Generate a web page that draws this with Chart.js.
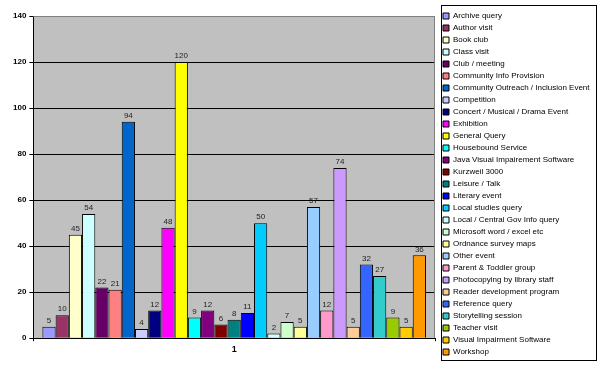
<!DOCTYPE html>
<html lang="en">
<head>
<meta charset="UTF-8">
<title>Library enquiries</title>
<script src="https://cdn.jsdelivr.net/npm/chart.js@4/dist/chart.umd.min.js"></script>
<style>
    html, body {margin: 0; padding: 0; background: #fff; overflow: hidden;}
    #chartDom {position: relative; width: 600px; height: 366px;}
</style>
</head>
<body>
<div id="chartDom"><canvas id="chart"></canvas></div>
<script>
    const categories = ['1'];

    const seriesNames = ['Archive query', 'Author visit', 'Book club', 'Class visit', 'Club / meeting',
        'Community Info Provision', 'Community Outreach / Inclusion Event', 'Competition',
        'Concert / Musical / Drama Event', 'Exhibition', 'General Query', 'Housebound Service',
        'Java Visual Impairement Software', 'Kurzweil 3000', 'Leisure / Talk', 'Literary event',
        'Local studies query', 'Local / Central Gov Info query', 'Microsoft word / excel etc',
        'Ordnance survey maps', 'Other event', 'Parent & Toddler group', 'Photocopying by library staff',
        'Reader development program', 'Reference query', 'Storytelling session', 'Teacher visit',
        'Visual Impairment Software', 'Workshop'];

    const seriesValues = [5, 10, 45, 54, 22, 21, 94, 4, 12, 48, 120, 9, 12, 6, 8, 11, 50, 2, 7, 5, 57, 12, 74, 5, 32, 27, 9, 5, 36];

    const seriesColors = ['#9999FF', '#993366', '#FFFFCC', '#CCFFFF', '#660066', '#FF8080', '#0066CC', '#CCCCFF',
        '#000080', '#FF00FF', '#FFFF00', '#00FFFF', '#800080', '#800000', '#008080', '#0000FF', '#00CCFF',
        '#CCFFFF', '#CCFFCC', '#FFFF99', '#99CCFF', '#FF99CC', '#CC99FF', '#FFCC99', '#3366FF', '#33CCCC',
        '#99CC00', '#FFCC00', '#FF9900'];

    const yMin = 0, yMax = 140, yStep = 20;

    const FONT = 'Arial, "Liberation Sans", sans-serif';

    // grey plot background + frame
    const plotArea = {
        id: 'plotArea',
        beforeDraw(chart) {
            const a = chart.chartArea, c = chart.ctx;
            c.save();
            c.fillStyle = '#C0C0C0';
            c.fillRect(a.left, a.top, a.right - a.left, a.bottom - a.top);
            c.restore();
        },
        afterDraw(chart) {
            const a = chart.chartArea, c = chart.ctx;
            c.save();
            c.strokeStyle = '#808080';
            c.lineWidth = 1;
            c.beginPath();
            c.moveTo(a.left, a.top + 0.5);
            c.lineTo(a.right - 0.5, a.top + 0.5);
            c.lineTo(a.right - 0.5, a.bottom);
            c.stroke();
            c.restore();
        }
    };

    // value above each bar
    const barLabels = {
        id: 'barLabels',
        afterDatasetsDraw(chart) {
            const c = chart.ctx;
            c.save();
            c.font = '8px ' + FONT;
            c.fillStyle = '#222';
            c.textAlign = 'center';
            c.textBaseline = 'bottom';
            chart.data.datasets.forEach((ds, i) => {
                chart.getDatasetMeta(i).data.forEach((bar, j) => {
                    c.fillText(ds.data[j], bar.x, bar.y - 2);
                });
            });
            c.restore();
        }
    };

    // fixed legend width, then nudge it a bit inside its slot
    const legendBox = {
        id: 'legendBox',
        beforeUpdate(chart) {
            const lg = chart.legend;
            if (!lg || lg._fixedFit) return;
            const fit = lg.fit;
            lg.fit = function () {
                fit.call(this);
                this.width = 161;
            };
            lg._fixedFit = true;
        },
        afterLayout(chart) {
            chart.legend.left += 4;
            chart.legend.top += 5;
            chart.legend.bottom += 5;
        },
        afterDraw(chart) {
            const l = chart.legend, c = chart.ctx;
            if (!l || !l.legendHitBoxes.length) return;
            const boxes = l.legendHitBoxes;
            const top = boxes[0].top - 7;
            const bottom = boxes[boxes.length - 1].top + boxes[boxes.length - 1].height + 4;
            const left = boxes[0].left - 2;
            c.save();
            c.strokeStyle = '#000';
            c.lineWidth = 1;
            c.strokeRect(Math.round(left) + 0.5, Math.round(top) + 0.5, 596 - Math.round(left), Math.round(bottom - top));
            c.restore();
        }
    };

    const datasets = seriesNames.map((name, i) => ({
        label: name,
        data: [seriesValues[i]],
        backgroundColor: seriesColors[i],
        borderColor: '#000',
        borderWidth: 1
    }));

    new Chart(document.getElementById('chart'), {
        type: 'bar',
        data: {labels: categories, datasets: datasets},
        plugins: [plotArea, barLabels, legendBox],
        options: {
            responsive: true,
            maintainAspectRatio: false,
            animation: false,
            layout: {padding: {left: 10, top: 0, right: 4, bottom: 8}},
            datasets: {bar: {barPercentage: 1, categoryPercentage: 0.955}},
            plugins: {
                tooltip: {enabled: false},
                // empty, non-full-width title only used to push the plot down
                title: {display: true, text: ' ', fullSize: false, padding: {top: 6, bottom: 0}, font: {size: 10, lineHeight: 1}},
                legend: {
                    position: 'right',
                    align: 'center',
                    labels: {
                        font: {family: FONT, size: 8},
                        color: '#000',
                        boxWidth: 6,
                        boxHeight: 6,
                        padding: 4
                    }
                }
            },
            scales: {
                x: {
                    grid: {display: true, drawOnChartArea: false, color: '#000', tickLength: 3},
                    border: {color: '#000'},
                    ticks: {font: {family: FONT, size: 9, weight: 'bold'}, color: '#000', padding: 3}
                },
                y: {
                    min: yMin,
                    max: yMax,
                    ticks: {stepSize: yStep, font: {family: FONT, size: 8, weight: 'bold'}, color: '#000', padding: 3},
                    grid: {
                        color: ctx => ctx.tick && ctx.tick.value === yMax ? '#808080' : '#000',
                        tickColor: '#000',
                        tickLength: 4
                    },
                    border: {color: '#000'}
                }
            }
        }
    });
</script>
</body>
</html>
